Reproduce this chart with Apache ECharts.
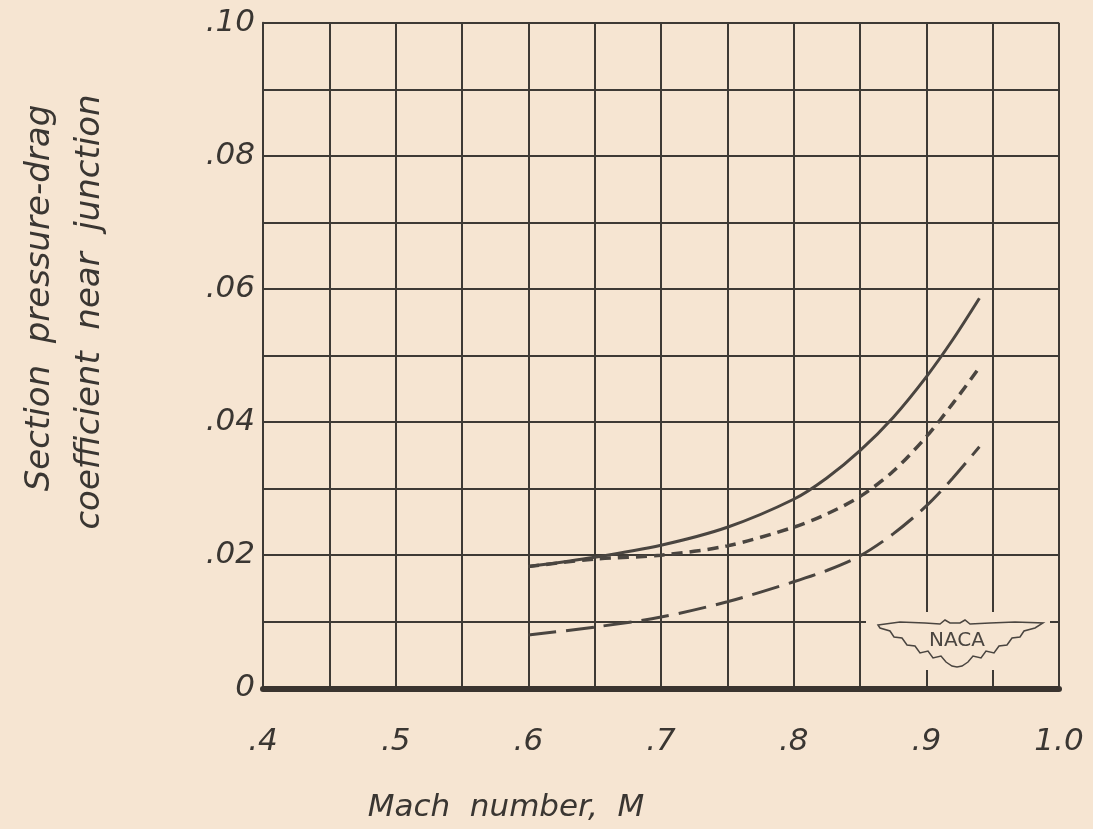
<!DOCTYPE html>
<html>
<head>
<meta charset="utf-8">
<script src="https://cdn.jsdelivr.net/npm/echarts@6/dist/echarts.min.js"></script>
<style>
html,body{margin:0;padding:0;background:#f6e5d2;}
#c{width:1093px;height:829px;}
</style>
</head>
<body>
<div id="c"></div>
<script>
// Mach number samples
const mach = [0.6, 0.65, 0.7, 0.75, 0.8, 0.825, 0.85, 0.875, 0.9, 0.92, 0.94];
// Section pressure-drag coefficient near junction
const solidCurve = [0.0183, 0.0197, 0.0215, 0.0242, 0.0284, 0.0316, 0.0357, 0.0407, 0.0468, 0.0524, 0.0586];
const shortDashCurve = [0.0183, 0.0194, 0.0200, 0.0214, 0.0242, 0.0262, 0.0288, 0.0326, 0.0378, 0.0428, 0.0482];
const longDashCurve = [0.0080, 0.0092, 0.0107, 0.0130, 0.0160, 0.0177, 0.0199, 0.0232, 0.0274, 0.0316, 0.0363];

const xTickLabels = ['.4', '.5', '.6', '.7', '.8', '.9', '1.0'];
const yTickLabels = ['0', '.02', '.04', '.06', '.08', '.10'];

const ink = '#3e3a35';
const bg = '#f6e5d2';
const font = '"DejaVu Sans", sans-serif';

function pairs(ys) { return mach.map((m, i) => [m, ys[i]]); }

const wingPoints = [
  [878,625],[900,622],[925,623],[940,624],[945,620],[950,623],[960,623],[965,620],[970,624],
  [990,623],[1015,622],[1043,623],[1035,628],[1024,631],[1020,637],[1012,638],[1007,645],
  [999,646],[994,653],[986,651],[981,658],[973,656],[968,662],[962,666],[957,667],[952,666],
  [946,662],[941,656],[933,658],[928,651],[920,653],[915,646],[907,645],[902,638],[894,637],
  [890,631],[880,628]
];

const chart = echarts.init(document.getElementById('c'));
chart.setOption({
  backgroundColor: bg,
  animation: false,
  grid: { left: 263, right: 34, top: 22.7, bottom: 140.7 },
  xAxis: {
    type: 'value', min: 0.4, max: 1.0, interval: 0.05,
    axisLine: { show: true, onZero: false, lineStyle: { color: '#3a342f', width: 6 } },
    axisTick: { show: false },
    splitLine: { show: true, lineStyle: { color: ink, width: 2 } },
    axisLabel: {
      margin: 38, color: '#3a3632', fontFamily: font, fontStyle: 'italic', fontSize: 31,
      formatter: function (v) {
        const k = Math.round(v * 100);
        if (k % 10 !== 0) return '';
        return xTickLabels[(k - 40) / 10];
      }
    }
  },
  yAxis: {
    type: 'value', min: 0, max: 0.1, interval: 0.01,
    axisLine: { show: true, lineStyle: { color: ink, width: 2 } },
    axisTick: { show: false },
    splitLine: { show: true, lineStyle: { color: ink, width: 2 } },
    axisLabel: {
      margin: 8, color: '#3a3632', fontFamily: font, fontStyle: 'italic', fontSize: 31,
      formatter: function (v) {
        const k = Math.round(v * 100);
        if (k % 2 !== 0) return '';
        return yTickLabels[k / 2];
      }
    }
  },
  series: [
    { type: 'line', data: pairs(solidCurve), smooth: 0.3, symbol: 'none',
      lineStyle: { color: '#4a4540', width: 3, type: 'solid' }, z: 5 },
    { type: 'line', data: pairs(shortDashCurve), smooth: 0.3, symbol: 'none',
      lineStyle: { color: '#4a4540', width: 3.5, type: [11, 7] }, z: 5 },
    { type: 'line', data: pairs(longDashCurve), smooth: 0.3, symbol: 'none',
      lineStyle: { color: '#4a4540', width: 3, type: [28, 10] }, z: 5 }
  ],
  graphic: [
    { type: 'text', z: 100, x: 506, y: 808,
      style: { text: 'Mach  number,  M', font: 'italic 31px ' + font, fill: '#3a3632',
               textAlign: 'center', textVerticalAlign: 'middle' } },
    { type: 'text', z: 100, x: 40, y: 298, rotation: Math.PI / 2,
      style: { text: 'Section  pressure-drag', font: 'italic 34px ' + font, fill: '#3a3632',
               textAlign: 'center', textVerticalAlign: 'middle' } },
    { type: 'text', z: 100, x: 90, y: 312, rotation: Math.PI / 2,
      style: { text: 'coefficient  near  junction', font: 'italic 34px ' + font, fill: '#3a3632',
               textAlign: 'center', textVerticalAlign: 'middle' } },
    // NACA emblem (decoration)
    { type: 'rect', z: 100, shape: { x: 866, y: 612, width: 184, height: 58 },
      style: { fill: bg } },
    { type: 'polygon', z: 101, shape: { points: wingPoints },
      style: { fill: 'none', stroke: '#4a4540', lineWidth: 1.5 } },
    { type: 'text', z: 102, x: 957, y: 641,
      style: { text: 'NACA', font: '20px ' + font, fill: '#4a4540',
               textAlign: 'center', textVerticalAlign: 'middle' } }
  ]
});
</script>
</body>
</html>
